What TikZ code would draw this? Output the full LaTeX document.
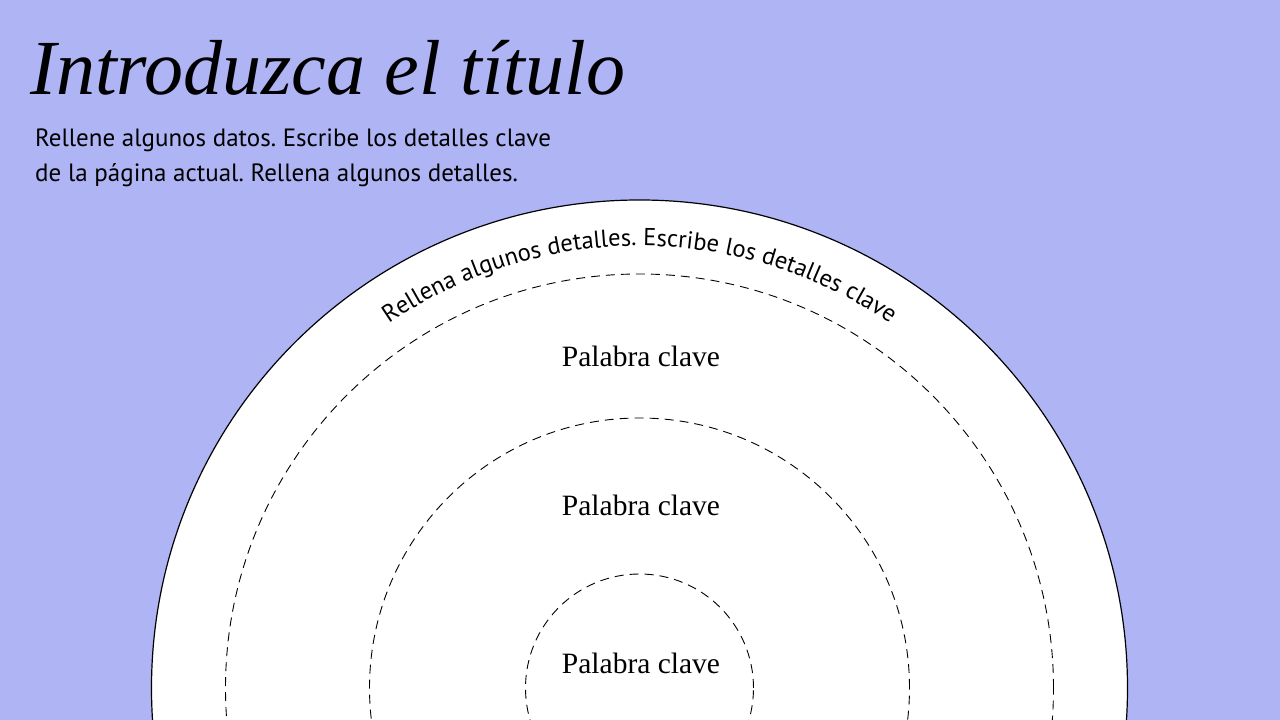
\documentclass[tikz,border=0pt]{standalone}
\usepackage{fontspec}
\setmainfont{Liberation Serif}
\newfontfamily\bodyfont{PT Sans}
\usetikzlibrary{decorations.text,calc}
\definecolor{lav}{HTML}{AEB4F4}
\frenchspacing
\tikzset{
  ring/.style={draw=black, line width=0.9pt, dash pattern=on 9pt off 6pt},
  kw/.style={font=\fontsize{29.5}{33}\selectfont, anchor=base, inner sep=0pt},
  body/.style={font=\bodyfont\fontsize{25}{30}\selectfont, anchor=base west, inner sep=0pt}
}
\begin{document}
\begin{tikzpicture}[x=1pt,y=1pt]
\useasboundingbox (0,0) rectangle (1280,720);
\clip (0,0) rectangle (1280,720);
\fill[lav] (0,0) rectangle (1280,720);
\coordinate (c) at (639.5,32);
\draw[fill=white, line width=1.2pt] (c) circle[radius=488];
\draw[ring] (c) circle[radius=414];
\draw[ring] (c) circle[radius=270];
\draw[ring] (c) circle[radius=114];
\node[anchor=base west, inner sep=0pt, font=\itshape\fontsize{78}{88}\selectfont] (title) at (30,625) {Introduzca el título};
\node[body] (l1) at (35,573) {Rellene algunos datos. Escribe los detalles clave};
\node[body] (l2) at (35,538) {de la página actual. Rellena algunos detalles.};
\node[kw] (k1) at (641,353) {Palabra clave};
\node[kw] (k2) at (641,204) {Palabra clave};
\node[kw] (k3) at (641,46) {Palabra clave};
\coordinate (arcstart) at ($(c)+(150:442)$);
\path[decorate, decoration={text along path, text align=center,
  text={|\bodyfont\fontsize{24.5}{29}\selectfont|Rellena algunos detalles. Escribe los detalles clave}}]
  (arcstart) arc[start angle=150, end angle=30, radius=442];
\end{tikzpicture}
\end{document}
